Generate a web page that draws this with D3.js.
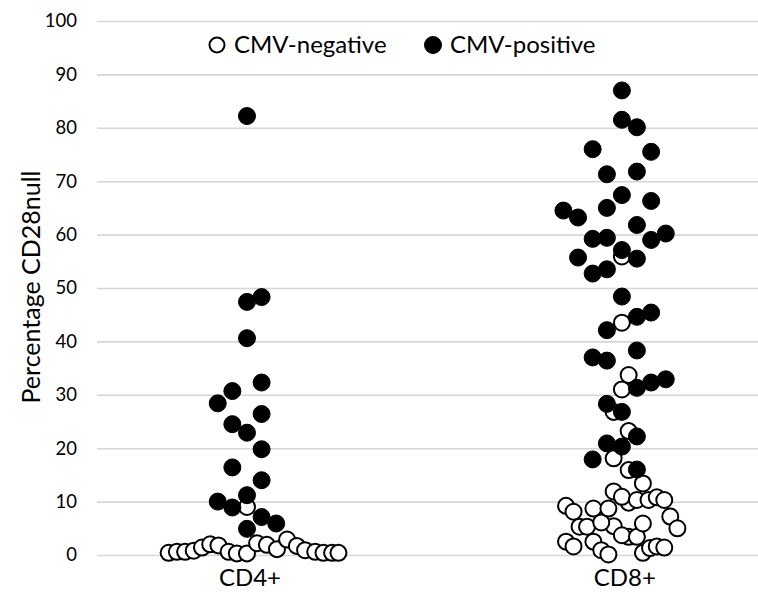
<html>
<script src='https://d3js.org/d3.v7.min.js'></script>
<style>
  body { margin: 0; background: #fff; }
  text { font-family: Lato, 'Open Sans', sans-serif; fill: #000; }
  .grid line { stroke: #d6d6d6; stroke-width: 1.6; }
  .neg { fill: #fff; stroke: #000; stroke-width: 2; }
  .pos { fill: #000; stroke: #000; stroke-width: 1; }
</style>
<body onload='init()'>
<svg width=758 height=592></svg>
<script>
// categories on the x axis (center positions 1 and 2)
const categories = ['CD4+', 'CD8+']
const yTicks = [0, 10, 20, 30, 40, 50, 60, 70, 80, 90, 100]
const seriesNames = ['CMV-negative', 'CMV-positive']

// [x, percentage]
const cd4Negative = [
  [0.791, 0.4], [0.813, 0.6], [0.835, 0.6], [0.858, 0.8], [0.880, 1.4], [0.902, 2.0],
  [0.924, 1.8], [0.951, 0.6], [0.973, 0.3], [1.000, 0.3], [1.027, 2.2], [1.053, 1.9],
  [1.080, 1.1], [1.107, 2.9], [1.133, 1.7], [1.155, 0.9], [1.182, 0.6], [1.204, 0.4],
  [1.227, 0.4], [1.244, 0.4], [1.000, 9.0]
]
const cd4Positive = [
  [1.000, 82.2], [1.000, 47.4], [1.000, 40.6], [1.000, 22.9], [1.000, 11.2], [1.000, 4.9],
  [1.039, 48.3], [1.039, 32.3], [1.039, 26.4], [1.039, 19.8], [1.039, 14.0], [1.039, 7.1],
  [0.961, 30.7], [0.961, 24.5], [0.961, 16.4], [0.961, 8.9],
  [0.922, 28.4], [0.922, 10.0], [1.078, 5.9]
]
const cd8Negative = [
  [2.000, 55.9], [2.000, 43.5], [2.000, 31.0], [2.018, 33.7], [2.018, 23.2], [2.018, 15.9],
  [2.018, 9.8], [2.018, 3.4], [1.978, 26.8], [1.978, 18.1], [1.978, 11.9], [1.978, 5.4],
  [2.000, 10.9], [2.000, 3.7], [2.040, 10.3], [2.040, 3.4], [2.056, 13.4], [2.056, 5.9],
  [2.056, 0.4], [2.071, 10.3], [2.075, 1.3], [2.093, 10.8], [2.093, 1.6], [2.113, 10.3],
  [2.113, 1.4], [2.129, 7.2], [2.148, 5.0], [1.851, 9.2], [1.851, 2.5], [1.871, 8.1],
  [1.871, 1.6], [1.887, 5.3], [1.907, 5.3], [1.924, 8.7], [1.924, 2.5], [1.945, 6.1],
  [1.945, 0.9], [1.964, 8.7], [1.964, 0.1]
]
const cd8Positive = [
  [2.000, 87.0], [2.000, 81.5], [2.000, 67.4], [2.000, 57.1], [2.000, 48.4], [2.000, 26.8], [2.000, 20.3],
  [2.040, 80.1], [2.040, 71.8], [2.040, 61.8], [2.040, 55.5], [2.040, 44.6], [2.040, 38.3],
  [2.040, 31.3], [2.040, 22.2], [2.040, 16.0],
  [2.078, 75.5], [2.078, 66.3], [2.078, 59.0], [2.078, 45.4], [2.078, 32.3],
  [2.117, 60.2], [2.117, 32.9],
  [1.960, 71.3], [1.960, 65.0], [1.960, 59.4], [1.960, 53.5], [1.960, 42.1], [1.960, 36.4],
  [1.960, 28.3], [1.960, 20.9],
  [1.922, 76.0], [1.922, 59.2], [1.922, 52.7], [1.922, 37.0], [1.922, 17.9],
  [1.883, 63.2], [1.883, 55.7], [1.844, 64.5]
]

function init() {
  const svg = d3.select('svg')
  const left = 97, right = 758, top = 21, bottom = 555

  const xScale = d3.scaleLinear().domain([0.6, 2.363]).range([left, right])
  const yScale = d3.scaleLinear().domain([0, 100]).range([bottom, top])

  // gridlines + tick labels
  const yAxis = svg.append('g')
    .attr('class', 'grid')
    .attr('transform', `translate(${left},0)`)
    .call(d3.axisLeft(yScale).tickValues(yTicks).tickSize(-(right - left)).tickPadding(20))
  yAxis.select('.domain').remove()
  yAxis.selectAll('text').style('font-size', '18.5px').attr('dx', 0)

  // y title
  svg.append('text')
    .attr('transform', `translate(40,287) rotate(-90)`)
    .attr('text-anchor', 'middle')
    .style('font-size', '25px')
    .text('Percentage CD28null')

  // category labels
  svg.selectAll('.cat')
    .data(categories)
    .enter()
    .append('text')
    .attr('class', 'cat')
    .attr('x', (d, i) => xScale(i + 1) + 3)
    .attr('y', 586)
    .attr('text-anchor', 'middle')
    .style('font-size', '24px')
    .text(d => d)

  const r = 9
  const plot = svg.append('g')
  plot.selectAll('.neg')
    .data(cd4Negative.concat(cd8Negative))
    .enter()
    .append('circle')
    .attr('class', 'neg')
    .attr('cx', d => xScale(d[0]))
    .attr('cy', d => yScale(d[1]))
    .attr('r', r - 1)
  plot.selectAll('.pos')
    .data(cd4Positive.concat(cd8Positive))
    .enter()
    .append('circle')
    .attr('class', 'pos')
    .attr('cx', d => xScale(d[0]))
    .attr('cy', d => yScale(d[1]))
    .attr('r', r - 0.5)

  // legend
  const legend = svg.append('g')
  const legendX = [217, 433]
  seriesNames.forEach(function(name, i) {
    legend.append('circle')
      .attr('class', i === 0 ? 'neg' : 'pos')
      .attr('cx', legendX[i])
      .attr('cy', 45)
      .attr('r', i === 0 ? 7.5 : 8.5)
    legend.append('text')
      .attr('x', legendX[i] + 17)
      .attr('y', 53)
      .style('font-size', '24px')
      .text(name)
  })
}
</script>
</body>
</html>
